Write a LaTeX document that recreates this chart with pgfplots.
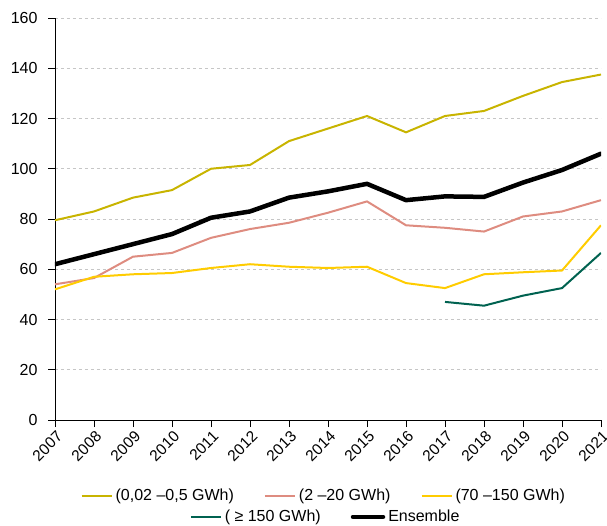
\documentclass[border=0pt]{standalone}
\usepackage{pgfplots}
\pgfplotsset{compat=1.18}
\usepackage{fontspec}
\setmainfont{Liberation Sans}

\definecolor{olive1}{RGB}{200,180,0}
\definecolor{pink1}{RGB}{222,140,128}
\definecolor{yellow1}{RGB}{255,204,0}
\definecolor{teal1}{RGB}{0,98,80}

\pgfplotsset{
  refleg/.style={
    legend style={draw=none, fill=none, inner sep=0pt, outer sep=0pt,
      nodes={inner xsep=3pt, inner ysep=1pt},
      /tikz/every even column/.append style={column sep=27pt}},
    legend image code/.code={\draw[##1] (0pt,0pt) -- (30pt,0pt);},
    legend cell align=left,
  }
}

\begin{document}
\fontsize{16}{19}\selectfont
\begin{tikzpicture}
\begin{axis}[
name=main,
scale only axis,
width=546pt, height=402pt,
xmin=2007, xmax=2021,
ymin=0, ymax=160,
xtick={2007,2008,...,2021},
ytick={0,20,...,160},
axis x line*=bottom,
axis y line*=left,
axis line style={black, line width=0.9pt},
tick style={black, line width=0.9pt},
tick align=outside,
major tick length=7pt,
ymajorgrids,
major grid style={dashed, gray!45, line width=0.6pt},
x tick label style={rotate=45, anchor=north east, inner sep=0.5pt, xshift=-1pt, yshift=-2pt,
  font=\fontsize{15.5}{18}\selectfont},
y tick label style={xshift=-5pt},
/pgf/number format/assume math mode=true,
/pgf/number format/1000 sep={},
refleg,
legend style={at={(0.047,-0.189)}, anchor=west},
legend columns=3,
]
\addplot[olive1, line width=2pt] coordinates {
(2007,79.5) (2008,83) (2009,88.5) (2010,91.5) (2011,100) (2012,101.5) (2013,111) (2014,116) (2015,121) (2016,114.5) (2017,121) (2018,123) (2019,129) (2020,134.5) (2021,137.5)};
\addlegendentry{(0,02 –0,5 GWh)}
\addplot[pink1, line width=2pt] coordinates {
(2007,54) (2008,56.5) (2009,65) (2010,66.5) (2011,72.5) (2012,76) (2013,78.5) (2014,82.5) (2015,87) (2016,77.5) (2017,76.5) (2018,75) (2019,81) (2020,83) (2021,87.5)};
\addlegendentry{(2 –20 GWh)}
\addplot[yellow1, line width=2pt] coordinates {
(2007,52) (2008,57) (2009,58) (2010,58.5) (2011,60.5) (2012,62) (2013,61) (2014,60.5) (2015,61) (2016,54.5) (2017,52.5) (2018,58) (2019,58.8) (2020,59.5) (2021,77.5)};
\addlegendentry{(70 –150 GWh)}
\addplot[teal1, line width=2pt, forget plot] coordinates {
(2017,47) (2018,45.5) (2019,49.5) (2020,52.5) (2021,66.5)};
\addplot[black, line width=4.5pt, line join=round, line cap=round, forget plot] coordinates {
(2007,62) (2008,66) (2009,70) (2010,74) (2011,80.5) (2012,83) (2013,88.5) (2014,91) (2015,94) (2016,87.5) (2017,89) (2018,88.8) (2019,94.5) (2020,99.5) (2021,106)};
\end{axis}
\begin{axis}[
scale only axis,
width=546pt, height=402pt,
xmin=0, xmax=1, ymin=0, ymax=1,
hide axis,
refleg,
legend style={at={(0.247,-0.241)}, anchor=west},
legend columns=2,
]
\addlegendimage{teal1, line width=2pt}
\addlegendentry{( ≥ 150 GWh)}
\addlegendimage{black, line width=4.5pt, line cap=round}
\addlegendentry{Ensemble}
\end{axis}
\pgfresetboundingbox
\path ([shift={(-55pt,-105pt)}]main.south west) rectangle ([shift={(6pt,18pt)}]main.north east);
\end{tikzpicture}
\end{document}
